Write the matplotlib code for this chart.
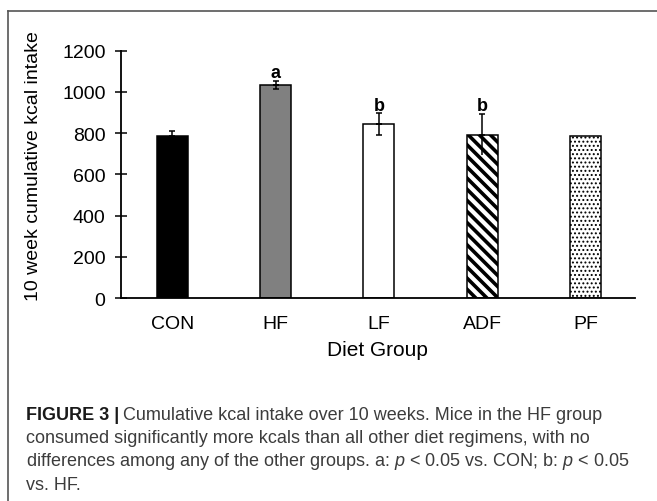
import matplotlib
matplotlib.use("Agg")
import matplotlib.pyplot as plt
from matplotlib.lines import Line2D

groups = ["CON", "HF", "LF", "ADF", "PF"]
kcal = [786, 1035, 844, 792, 786]
err_lo = [0, 20, 52, 100, 0]
err_hi = [22, 20, 52, 100, 0]
low_cap = [False, True, True, False, False]
sig = ["", "a", "b", "b", ""]
fills = ["black", "#808080", "white", "white", "white"]
hatches = [None, None, None, "\\\\\\", "...."]
yticks = [0, 200, 400, 600, 800, 1000, 1200]

caption = [
    "Cumulative kcal intake over 10 weeks. Mice in the HF group",
    "consumed significantly more kcals than all other diet regimens, with no",
    r"differences among any of the other groups. a: $p$ < 0.05 vs. CON; b: $p$ < 0.05",
    "vs. HF.",
]

plt.rcParams["font.family"] = ["Liberation Sans", "DejaVu Sans"]
plt.rcParams["mathtext.fontset"] = "custom"
plt.rcParams["mathtext.rm"] = "Liberation Sans"
plt.rcParams["mathtext.it"] = "Liberation Sans:italic"

W, H = 657, 502
fig = plt.figure(figsize=(W / 100, H / 100), dpi=100)
ax = fig.add_axes([120.7 / W, 1 - 299 / H, 514.3 / W, 247.3 / H])

x = list(range(len(groups)))
bars = ax.bar(x, kcal, width=0.3, color=fills, edgecolor="black",
              linewidth=1.1, zorder=2)
for b, h in zip(bars, hatches):
    if h:
        b.set_hatch(h)
try:
    bars[3].set_hatch_linewidth(2.6)
    bars[4].set_hatch_linewidth(0.9)
except AttributeError:
    pass

# upper half of the error bars, always capped
eb = dict(fmt="none", ecolor="black", elinewidth=1.1, capthick=1.1, zorder=3)
up = [i for i in x if err_hi[i] > 0]
ax.errorbar(up, [kcal[i] for i in up],
            yerr=[[0] * len(up), [err_hi[i] for i in up]], capsize=2.5, **eb)
# lower half, capped only where the cap shows in the original
for i in x:
    if err_lo[i] > 0:
        ax.errorbar([i], [kcal[i]], yerr=[[err_lo[i]], [0]],
                    capsize=2.5 if low_cap[i] else 0, **eb)

for i, s in enumerate(sig):
    if s:
        ax.text(i, kcal[i] + err_hi[i] + 18, s, ha="center", va="baseline",
                fontsize=13, fontweight="bold")

ax.set_xlim(-0.5, 4.48)
ax.set_ylim(0, 1200)
ax.set_yticks(yticks)
ax.set_xticks(x)
ax.set_xticklabels(groups)
ax.spines["top"].set_visible(False)
ax.spines["right"].set_visible(False)
for sp in ("left", "bottom"):
    ax.spines[sp].set_linewidth(1.3)
ax.tick_params(axis="y", direction="inout", length=9, width=1.1,
               pad=6.4, labelsize=14)
ax.tick_params(axis="x", length=0, pad=12, labelsize=14)

ax.set_xlabel("Diet Group", fontsize=15, labelpad=6)
ax.set_ylabel("10 week cumulative kcal intake", fontsize=14)
ax.yaxis.set_label_coords(-0.153, 0.536)

# frame lines of the figure panel
fy = 1 - 11.7 / H
fx = 8 / W
fig.add_artist(Line2D([fx, fx], [fy, 0], transform=fig.transFigure,
                      color="#555555", lw=1.2))
fig.add_artist(Line2D([fx, 1], [fy, fy], transform=fig.transFigure,
                      color="#555555", lw=1.2))

# caption
cap_fs = 13.0
cap_col = "#3c3c3c"
renderer = fig.canvas.get_renderer()
baselines = [419.5, 443, 466.5, 490]
head = fig.text(26 / W, 1 - baselines[0] / H, "FIGURE 3 |", fontsize=cap_fs,
                fontweight="bold", color="#1a1a1a", va="baseline")
hb = head.get_window_extent(renderer)
fig.text((hb.x1 + 4) / W, 1 - baselines[0] / H, caption[0], fontsize=cap_fs,
         color=cap_col, va="baseline")
for line, yb in zip(caption[1:], baselines[1:]):
    fig.text(26 / W, 1 - yb / H, line, fontsize=cap_fs, color=cap_col,
             va="baseline")

fig.savefig("out.png", dpi=100)
